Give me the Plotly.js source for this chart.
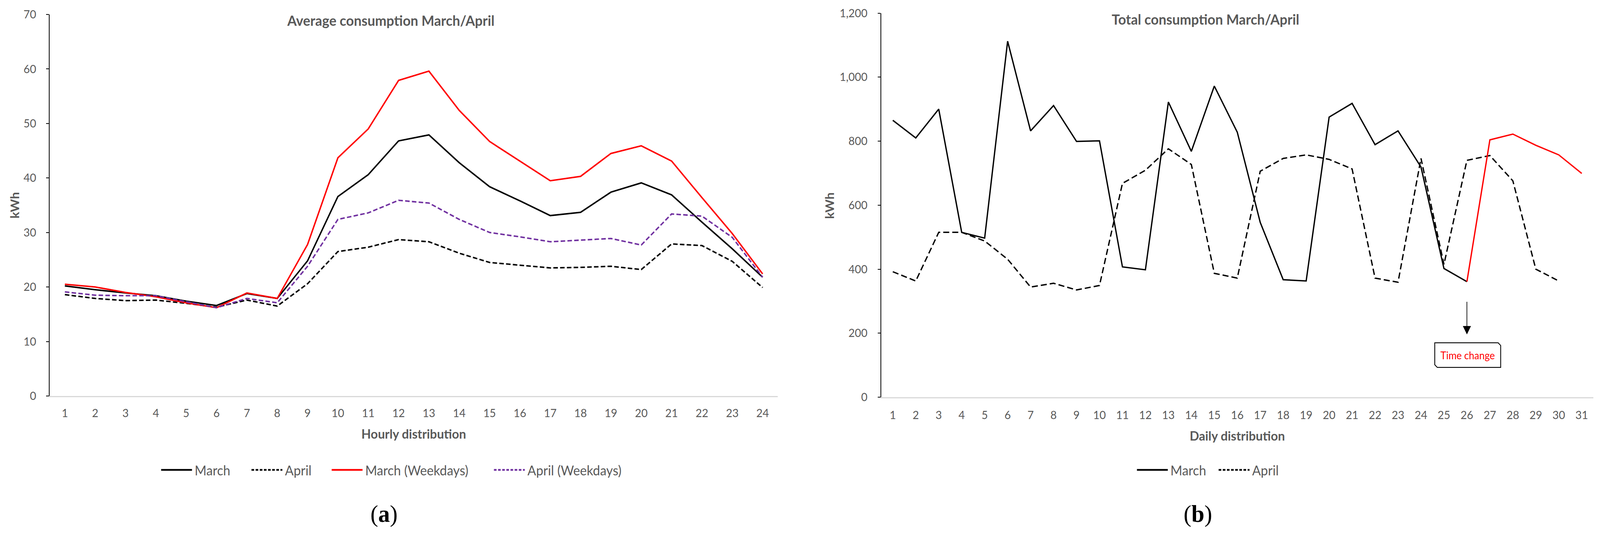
<!DOCTYPE html>
<html>
<head>
<meta charset="utf-8">
<script src="https://cdn.plot.ly/plotly-3.0.1.min.js"></script>
<style>
  html, body { margin: 0; padding: 0; background: #ffffff; overflow: hidden; }
  #chart { width: 4250px; height: 1366px; transform-origin: 0 0; }
</style>
</head>
<body>
<div id="chart"></div>
<script>
// ---------- Data: panel (a) hourly averages (kWh) ----------
const hours = [1,2,3,4,5,6,7,8,9,10,11,12,13,14,15,16,17,18,19,20,21,22,23,24];
const marchAvg    = [20.2,19.5,18.9,18.4,17.4,16.6,18.8,17.9,24.8,36.6,40.6,46.8,47.9,42.8,38.4,35.8,33.1,33.7,37.4,39.1,36.9,31.9,27.0,21.8];
const aprilAvg    = [18.6,17.9,17.5,17.6,17.0,16.3,17.6,16.5,20.6,26.5,27.3,28.7,28.3,26.2,24.5,24.0,23.5,23.6,23.8,23.2,27.9,27.6,24.7,19.9];
const marchWkAvg  = [20.5,20.0,19.0,18.2,17.1,16.2,18.9,17.9,27.8,43.7,49.0,57.9,59.6,52.4,46.7,43.1,39.5,40.3,44.5,45.9,43.1,36.4,29.8,22.4];
const aprilWkAvg  = [19.1,18.5,18.4,18.4,17.3,16.2,17.9,17.1,23.8,32.4,33.6,35.9,35.4,32.4,30.0,29.2,28.3,28.6,28.9,27.7,33.4,33.0,29.1,21.8];

// ---------- Data: panel (b) daily totals (kWh) ----------
const days = [1,2,3,4,5,6,7,8,9,10,11,12,13,14,15,16,17,18,19,20,21,22,23,24,25,26,27,28,29,30,31];
const marchTotalBefore = [865,810,900,515,497,1112,832,911,799,801,407,398,922,768,972,828,546,367,363,875,918,789,832,719,402,361]; // days 1-26
const marchTotalAfter  = [361,804,822,787,757,699];   // days 26-31 (after the time change)
const aprilTotal = [392,363,515,515,488,431,344,356,335,349,668,709,776,727,387,372,706,746,757,743,713,372,359,746,415,740,755,676,400,363]; // days 1-30

const hourLabels = hours.map(String);
const dayLabels = days.map(String);
const timeChangeDay = 26;

// ---------- Styling ----------
const W = 4250, H = 1366;
const GREY = '#595959';
const FONT = 'Lato, "Open Sans", sans-serif';
const SERIF = '"Liberation Serif", "DejaVu Serif", serif';
const DASH_A = '12px,6px';
const DASH_B = '16px,8px';

const seriesA = [
  { name: 'March',            y: marchAvg,   color: '#000000', dash: 'solid' },
  { name: 'April',            y: aprilAvg,   color: '#000000', dash: DASH_A },
  { name: 'March (Weekdays)', y: marchWkAvg, color: '#FF0000', dash: 'solid' },
  { name: 'April (Weekdays)', y: aprilWkAvg, color: '#7030A0', dash: DASH_A }
];

const traces = seriesA.map(s => ({
  x: hours, y: s.y, name: s.name, type: 'scatter', mode: 'lines',
  line: { color: s.color, width: 3.8, dash: s.dash }, xaxis: 'x', yaxis: 'y', showlegend: false
}));
traces.push(
  { x: days.slice(0, marchTotalBefore.length), y: marchTotalBefore, name: 'March', type: 'scatter', mode: 'lines',
    line: { color: '#000000', width: 3.5 }, xaxis: 'x2', yaxis: 'y2', showlegend: false },
  { x: days.slice(0, aprilTotal.length), y: aprilTotal, name: 'April', type: 'scatter', mode: 'lines',
    line: { color: '#000000', width: 3.5, dash: DASH_B }, xaxis: 'x2', yaxis: 'y2', showlegend: false },
  { x: days.slice(timeChangeDay - 1), y: marchTotalAfter, name: 'March (after time change)', type: 'scatter', mode: 'lines',
    line: { color: '#FF0000', width: 3.5 }, xaxis: 'x2', yaxis: 'y2', showlegend: false }
);

// Legend rows (pixel positions in the 4250-wide frame)
const legendA = [
  { label: 'March',            color: '#000000', dash: 'solid',   x0: 428 },
  { label: 'April',            color: '#000000', dash: '7px,4px', x0: 668 },
  { label: 'March (Weekdays)', color: '#FF0000', dash: 'solid',   x0: 881 },
  { label: 'April (Weekdays)', color: '#7030A0', dash: '7px,4px', x0: 1312 }
];
const legendB = [
  { label: 'March', color: '#000000', dash: 'solid',   x0: 3020 },
  { label: 'April', color: '#000000', dash: '7px,4px', x0: 3237 }
];
const LEGEND_Y = 1202, SAMPLE_LEN = 82, TEXT_GAP = 5;

const shapes = [];
const annotations = [];
legendA.concat(legendB).forEach(e => {
  shapes.push({ type: 'line', xref: 'paper', yref: 'paper',
    x0: e.x0 / W, x1: (e.x0 + SAMPLE_LEN) / W, y0: 1 - LEGEND_Y / H, y1: 1 - LEGEND_Y / H,
    line: { color: e.color, width: 4.5, dash: e.dash } });
  annotations.push({ text: e.label, xref: 'paper', yref: 'paper',
    x: (e.x0 + SAMPLE_LEN + TEXT_GAP) / W, y: 1 - LEGEND_Y / H, xanchor: 'left', yanchor: 'middle',
    showarrow: false, font: { family: FONT, size: 34, color: GREY } });
});

annotations.push(
  { text: '<b>Average consumption March/April</b>', xref: 'paper', yref: 'paper',
    x: 1038 / W, y: 1 - 52 / H, xanchor: 'center', yanchor: 'middle', showarrow: false,
    font: { family: FONT, size: 36, color: GREY } },
  { text: '<b>Total consumption March/April</b>', xref: 'paper', yref: 'paper',
    x: 3202 / W, y: 1 - 49 / H, xanchor: 'center', yanchor: 'middle', showarrow: false,
    font: { family: FONT, size: 36, color: GREY } },
  { text: '<b>kWh</b>', xref: 'paper', yref: 'paper', x: 38 / W, y: 1 - 525 / H,
    xanchor: 'center', yanchor: 'middle', textangle: -90, showarrow: false,
    font: { family: FONT, size: 32, color: GREY } },
  { text: '<b>kWh</b>', xref: 'paper', yref: 'paper', x: 2202 / W, y: 1 - 526 / H,
    xanchor: 'center', yanchor: 'middle', textangle: -90, showarrow: false,
    font: { family: FONT, size: 32, color: GREY } },
  { text: '', xref: 'x2', yref: 'y2', x: timeChangeDay, y: 196, axref: 'x2', ayref: 'y2',
    ax: timeChangeDay, ay: 300, showarrow: true, arrowhead: 2, arrowsize: 2.4, arrowwidth: 1.8, arrowcolor: '#000000' },
  { text: 'Time change', xref: 'x2', yref: 'y2', x: timeChangeDay + 0.03, y: 131,
    xanchor: 'center', yanchor: 'middle', showarrow: false,
    font: { family: FONT, size: 26, color: '#FF0000' } },
  { text: '(<b>a</b>)', xref: 'paper', yref: 'paper', x: 1020 / W, y: 1 - 1314 / H,
    xanchor: 'center', yanchor: 'middle', showarrow: false,
    font: { family: SERIF, size: 62, color: '#000000' } },
  { text: '(<b>b</b>)', xref: 'paper', yref: 'paper', x: 3182 / W, y: 1 - 1314 / H,
    xanchor: 'center', yanchor: 'middle', showarrow: false,
    font: { family: SERIF, size: 62, color: '#000000' } }
);

// "Time change" call-out box with two snipped corners (data units of panel b)
const box = { x0: 24.60, x1: 27.47, y0: 92.9, y1: 169.9, sx: 0.11, sy: 8.5 };
shapes.push({ type: 'path', xref: 'x2', yref: 'y2',
  path: `M ${box.x0} ${box.y1} L ${box.x1 - box.sx} ${box.y1} L ${box.x1} ${box.y1 - box.sy} L ${box.x1} ${box.y0} ` +
        `L ${box.x0 + box.sx} ${box.y0} L ${box.x0} ${box.y0 + box.sy} Z`,
  line: { color: '#000000', width: 2.2 }, fillcolor: '#ffffff', layer: 'above' });

const axisTick = { family: FONT, size: 29, color: GREY };
const axisTitleFont = { family: FONT, size: 33, color: GREY };

const layout = {
  width: W, height: H,
  margin: { l: 0, r: 0, t: 0, b: 0 },
  paper_bgcolor: '#ffffff', plot_bgcolor: '#ffffff',
  font: { family: FONT, color: GREY },
  showlegend: false,
  xaxis: {
    domain: [132 / W, 2066 / W], range: [0.5, 24.5], anchor: 'y',
    tickmode: 'array', tickvals: hours, ticktext: hourLabels,
    showgrid: false, zeroline: false, showline: true, linecolor: '#d9d9d9', linewidth: 3,
    ticks: '', tickfont: axisTick, ticklabelstandoff: 16,
    title: { text: '<b>Hourly distribution</b>', font: axisTitleFont, standoff: 28 }
  },
  yaxis: {
    domain: [1 - 1013 / H, 1 - 37 / H], range: [0, 70], dtick: 10, anchor: 'x',
    showgrid: false, zeroline: false, showline: true, linecolor: '#000000', linewidth: 2,
    ticks: 'outside', ticklen: 8, tickwidth: 2, tickcolor: '#000000',
    tickfont: axisTick, ticklabelstandoff: 20
  },
  xaxis2: {
    domain: [2341 / W, 4232 / W], range: [0.5, 31.5], anchor: 'y2',
    tickmode: 'array', tickvals: days, ticktext: dayLabels,
    showgrid: false, zeroline: false, showline: true, linecolor: '#d9d9d9', linewidth: 3,
    ticks: '', tickfont: axisTick, ticklabelstandoff: 18,
    title: { text: '<b>Daily distribution</b>', font: axisTitleFont, standoff: 28 }
  },
  yaxis2: {
    domain: [1 - 1016 / H, 1 - 33.5 / H], range: [0, 1200], dtick: 200, anchor: 'x2', tickformat: ',d',
    showgrid: false, zeroline: false, showline: true, linecolor: '#000000', linewidth: 2,
    ticks: 'outside', ticklen: 8, tickwidth: 2, tickcolor: '#000000',
    tickfont: axisTick, ticklabelstandoff: 21
  },
  annotations: annotations,
  shapes: shapes
};

// Fit the 4250x1366 drawing into the actual viewport if it is smaller.
const vw = document.documentElement.clientWidth || window.innerWidth;
const vh = window.innerHeight || document.documentElement.clientHeight;
const sx = Math.min(1, vw / W), sy = Math.min(1, vh / H);
if (sx < 0.999 || sy < 0.999) {
  document.getElementById('chart').style.transform = `scale(${sx}, ${sy})`;
}

Plotly.newPlot('chart', traces, layout, { displayModeBar: false, staticPlot: true });
</script>
</body>
</html>
